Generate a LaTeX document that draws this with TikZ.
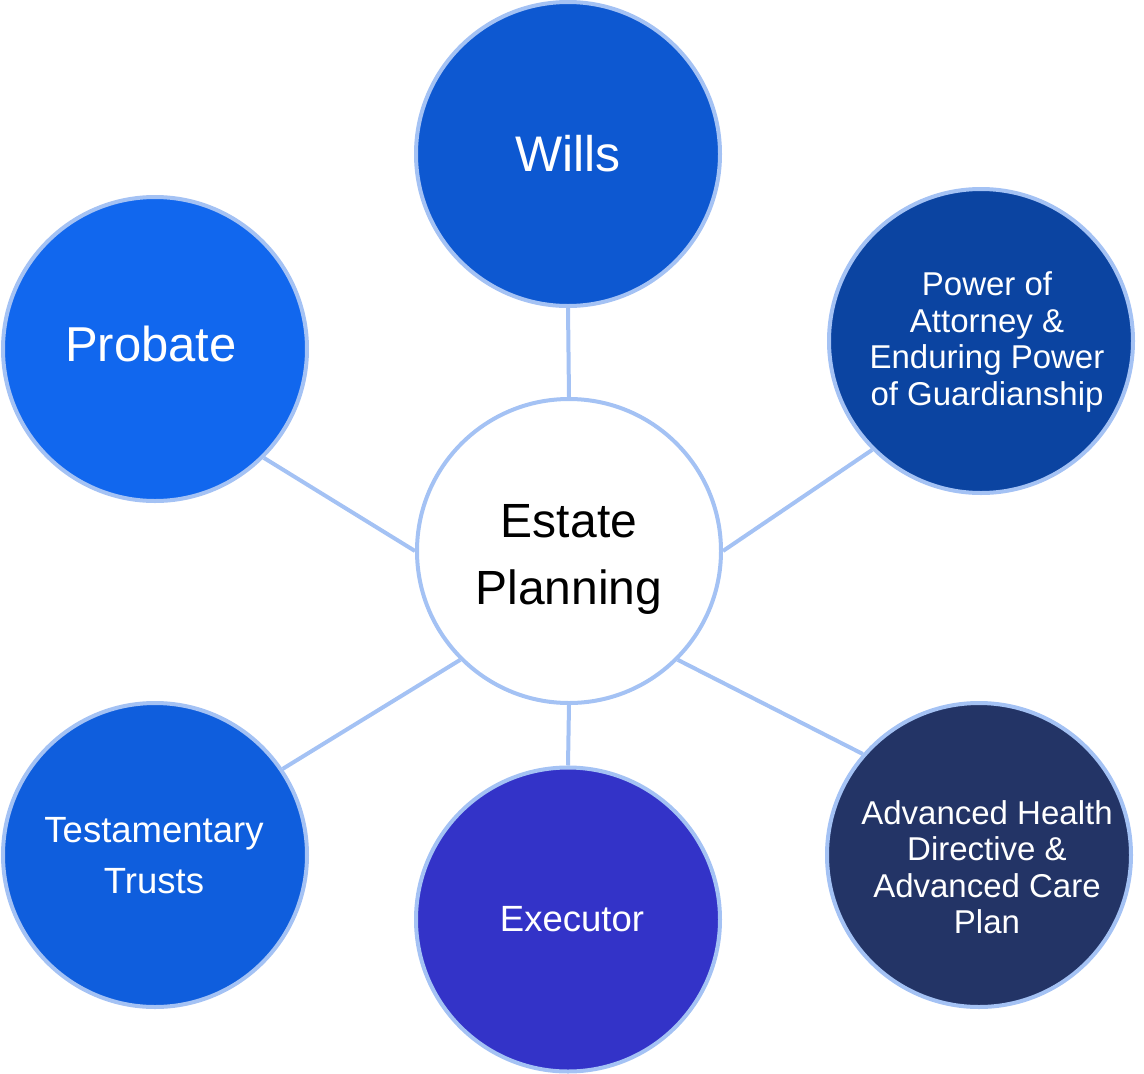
\documentclass[tikz,border=0pt]{standalone}
\usepackage{fontspec}
\setmainfont{Liberation Sans}
\usepackage{tikz}

\definecolor{lineblue}{RGB}{164,194,244}
\definecolor{willsblue}{RGB}{13,88,209}
\definecolor{probblue}{RGB}{17,103,238}
\definecolor{powblue}{RGB}{11,68,161}
\definecolor{testblue}{RGB}{15,94,221}
\definecolor{execblue}{RGB}{51,51,200}
\definecolor{advblue}{RGB}{35,52,102}

\begin{document}
\begin{tikzpicture}[x=1pt,y=-1pt,
  bulle/.style={circle,draw=lineblue,line width=4pt,minimum size=304pt,inner sep=0pt},
  texte/.style={text=white,align=center,inner sep=0pt},
  lien/.style={draw=lineblue,line width=4pt}]
\useasboundingbox (0,0) rectangle (1144,1074);

\node[bulle,fill=willsblue] (wills) at (568,154) {};%the circles
\node[bulle,fill=probblue] (probate) at (155,349) {};
\node[bulle,fill=powblue] (power) at (981,341) {};
\node[bulle,fill=white] (estate) at (569,551) {};
\node[bulle,fill=testblue] (testament) at (155,855) {};
\node[bulle,fill=execblue] (executor) at (568,919.5) {};
\node[bulle,fill=advblue] (advanced) at (979,855) {};

\draw[lien] (wills.south) -- (estate.north);%the links
\draw[lien] (probate.-45) -- (estate.180);
\draw[lien] (power.225) -- (estate.0);
\draw[lien] (testament.34) -- (estate.225);
\draw[lien] (estate.south) -- (executor.north);
\draw[lien] (estate.-45) -- (advanced.139);

\node[texte,font=\fontsize{50}{60}\selectfont] (willst) at (568,154) {Wills};
\node[texte,font=\fontsize{49}{59}\selectfont] (probatet) at (151,344) {Probate};
\node[texte,text=black,font=\fontsize{48}{67}\selectfont] (estatet) at (569,559) {Estate\\Planning};
\node[texte,font=\fontsize{33}{36.5}\selectfont] (powert) at (987,342) {Power of\\Attorney \&\\Enduring Power\\of Guardianship};
\node[texte,font=\fontsize{36.5}{51}\selectfont] (testamentt) at (154,856) {Testamentary\\Trusts};
\node[texte,font=\fontsize{36.5}{44}\selectfont] (executort) at (572,919.5) {Executor};
\node[texte,font=\fontsize{33}{36.5}\selectfont] (advancedt) at (987,867) {Advanced Health\\Directive \&\\Advanced Care\\Plan};
\end{tikzpicture}
\end{document}
